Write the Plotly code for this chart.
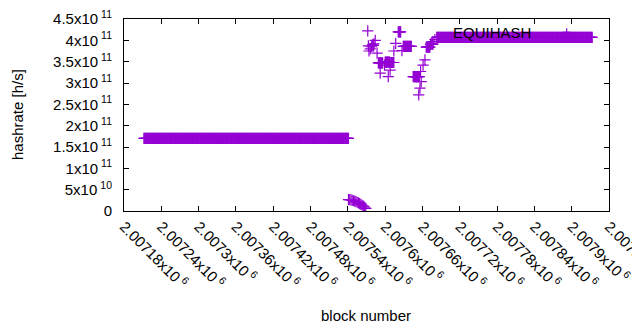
import plotly.graph_objects as go

# ---- data ----
# runs of consecutive blocks that share one hashrate value: (first block, last block, hashrate)
run_first = [2007212, 2007589, 2007600, 2007609, 2007621, 2007629, 2007645, 2007666, 2007673, 2007683]
run_last = [2007541, 2007596, 2007607, 2007614, 2007625, 2007642, 2007655, 2007672, 2007677, 2007933]
run_rate = [1.704e11, 3.47e11, 3.49e11, 3.48e11, 4.20e11, 3.86e11, 3.15e11, 3.84e11, 3.91e11, 4.07e11]

# falling stretch right after the first run
fall_blocks = [2007541, 2007543, 2007545, 2007547, 2007549, 2007551, 2007553, 2007555,
               2007557, 2007559, 2007561, 2007563, 2007565, 2007567, 2007569]
fall_rates = [2.65e10, 2.65e10, 2.6e10, 2.5e10, 2.4e10, 2.3e10, 2.2e10, 2.05e10,
              1.9e10, 1.75e10, 1.55e10, 1.35e10, 1.15e10, 0.9e10, 0.6e10]

# isolated points
pt_blocks = [2007572, 2007573, 2007574, 2007576, 2007578, 2007580, 2007581, 2007582, 2007584,
             2007587, 2007592, 2007599, 2007605, 2007608, 2007614, 2007617, 2007627,
             2007654, 2007656, 2007658, 2007657, 2007661, 2007664, 2007677, 2007680]
pt_rates = [4.22e11, 3.87e11, 3.75e11, 3.80e11, 3.85e11, 3.90e11, 3.88e11, 3.92e11, 4.00e11,
            3.70e11, 3.23e11, 3.42e11, 3.15e11, 3.30e11, 3.75e11, 3.93e11, 3.76e11,
            2.72e11, 2.88e11, 3.03e11, 3.27e11, 3.42e11, 3.54e11, 3.97e11, 4.02e11]

x_tick_vals = [2007180, 2007240, 2007300, 2007360, 2007420, 2007480, 2007540, 2007600,
               2007660, 2007720, 2007780, 2007840, 2007900, 2007960]
x_tick_text = ["2.00718", "2.00724", "2.0073", "2.00736", "2.00742", "2.00748", "2.00754",
               "2.0076", "2.00766", "2.00772", "2.00778", "2.00784", "2.0079", "2.00796"]
y_tick_vals = [0, 5e10, 1e11, 1.5e11, 2e11, 2.5e11, 3e11, 3.5e11, 4e11, 4.5e11]
y_mant = ["0", "5", "1", "1.5", "2", "2.5", "3", "3.5", "4", "4.5"]
y_exp = [None, "10", "11", "11", "11", "11", "11", "11", "11", "11"]
series_name = "EQUIHASH"

# ---- assemble ----
xs, ys = [], []
for a, b, r in zip(run_first, run_last, run_rate):
    for blk in range(a, b + 1):
        xs.append(blk)
        ys.append(r)
xs += fall_blocks
ys += fall_rates
xs += pt_blocks
ys += pt_rates

SP = "\u2009"
y_tick_text = [m if e is None else f"{m}x10{SP}<sup>{e}</sup>" for m, e in zip(y_mant, y_exp)]
x_tick_labels = [t + f"x10{SP}<sup>6</sup>" for t in x_tick_text]

purple = "#9400D3"
font = "Liberation Sans, Arial, sans-serif"

fig = go.Figure()
fig.add_trace(go.Scatter(
    x=xs, y=ys, mode="markers", name=series_name, showlegend=False,
    marker=dict(symbol="cross-thin-open", size=8, color=purple,
                line=dict(color=purple, width=1.2)),
))

W, H = 640, 330
OFF = 8  # page body margin
PX0, PX1, PY0, PY1 = 124, 609, 19, 211  # wanted plot box in screen pixels
L, T = PX0 - OFF, PY0 - OFF
R, B = W + OFF - PX1, H + OFF - PY1
pw, ph = PX1 - PX0, PY1 - PY0


def px(x):
    return (x - PX0) / pw


def py(y):
    return (PY1 - y) / ph


fig.update_layout(
    width=W, height=H,
    margin=dict(l=L, r=R, t=T, b=B, autoexpand=False),
    plot_bgcolor="white", paper_bgcolor="white",
    font=dict(family=font, size=15, color="black"),
    xaxis=dict(range=[2007180, 2007960], tickmode="array",
               tickvals=x_tick_vals, ticktext=x_tick_labels, automargin=False,
               tickangle=45, ticks="inside", ticklen=5, tickcolor="black",
               showline=True, linecolor="black", linewidth=1, mirror="ticks",
               showgrid=False, zeroline=False, tickfont=dict(size=15),
               ticklabeloverflow="allow"),
    yaxis=dict(range=[0, 4.5e11], tickmode="array", automargin=False,
               tickvals=y_tick_vals, ticktext=y_tick_text,
               ticks="inside", ticklen=5, tickcolor="black",
               showline=True, linecolor="black", linewidth=1, mirror="ticks",
               showgrid=False, zeroline=False, tickfont=dict(size=15),
               ticklabelstandoff=8, ticklabeloverflow="allow"),
)

# axis titles
fig.add_annotation(text="block number", xref="paper", yref="paper",
                   x=px(366), y=py(315), showarrow=False,
                   xanchor="center", yanchor="middle", font=dict(size=15))
fig.add_annotation(text="hashrate [h/s]", xref="paper", yref="paper",
                   x=px(17), y=py(115), showarrow=False, textangle=-90,
                   xanchor="center", yanchor="middle", font=dict(size=15))

# key (gnuplot style: text then sample)
fig.add_annotation(text=series_name, xref="paper", yref="paper",
                   x=px(533), y=py(33), showarrow=False,
                   xanchor="right", yanchor="middle", font=dict(size=15))
kx, ky = px(566.7), py(32.3)
dx, dy = 4 / pw, 4 / ph
fig.add_shape(type="line", xref="paper", yref="paper", x0=kx - dx, x1=kx + dx, y0=ky, y1=ky,
              line=dict(color=purple, width=1.2))
fig.add_shape(type="line", xref="paper", yref="paper", x0=kx, x1=kx, y0=ky - dy, y1=ky + dy,
              line=dict(color=purple, width=1.2))

fig.write_html("out.html")
